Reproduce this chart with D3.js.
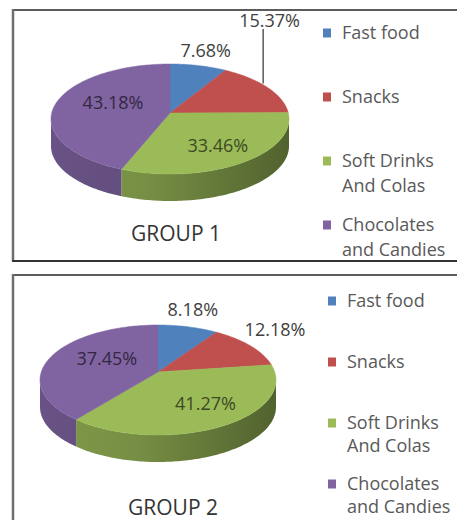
<!DOCTYPE html>
<html>
<head>
<meta charset="utf-8">
<script src="https://cdn.jsdelivr.net/npm/d3@7"></script>
<style>
  html, body { margin: 0; padding: 0; background: #fff; }
  svg { display: block; }
</style>
</head>
<body>
<svg id="chart" width="457" height="520"></svg>
<script>
// ---- data ----
const categories = ["Fast food", "Snacks", "Soft Drinks And Colas", "Chocolates and Candies"];
const legendLabels = [["Fast food"], ["Snacks"], ["Soft Drinks", "And Colas"], ["Chocolates", "and Candies"]];
const group1Values = [7.68, 15.37, 33.46, 43.18];
const group2Values = [8.18, 12.18, 41.27, 37.45];
const groupTitles = ["GROUP 1", "GROUP 2"];
const sliceColors = ["#4F81BD", "#C0504D", "#9BBB59", "#8064A2"];

// ---- layout of the two panels ----
const panels = [
  {
    values: group1Values, title: groupTitles[0],
    frame: { x: 12, top: 10, bottom: 261 },
    pie: { cx: 170, cy: 119, rx: 119, ry: 55, depth: 27, apexDy: -6 },
    titlePos: { x: 176, y: 241 },
    legend: { x: 323, y0: 33, step: 64, line: 25 },
    labelNudge: [[0, 4], [-23, -54], [9, 8], [7, -4]],
    leader: [false, true, false, false]
  },
  {
    values: group2Values, title: groupTitles[1],
    frame: { x: 12, top: 275, bottom: null },
    pie: { cx: 158, cy: 380, rx: 118, ry: 55, depth: 27, apexDy: -8 },
    titlePos: { x: 173, y: 515 },
    legend: { x: 328, y0: 301, step: 61, line: 23 },
    labelNudge: [[-3, 4], [1, 0], [14, 6], [9, -2]],
    leader: [false, false, false, false]
  }
];

const svg = d3.select("#chart");
const defs = svg.append("defs");
const FONT = "'Open Sans', 'Liberation Sans', sans-serif";
const fmt = v => d3.format(".2f")(v) + "%";

const pieGen = d3.pie().sort(null).startAngle(0).endAngle(2 * Math.PI).value(d => d);

panels.forEach((p, pi) => {
  const g = svg.append("g");
  const W = 457, H = 520;

  // frame lines (panel runs past the right edge of the page)
  g.append("line")
    .attr("x1", p.frame.x).attr("x2", W)
    .attr("y1", p.frame.top).attr("y2", p.frame.top)
    .attr("stroke", "#5c5c5c").attr("stroke-width", 2);
  g.append("line")
    .attr("x1", p.frame.x + 1).attr("x2", p.frame.x + 1)
    .attr("y1", p.frame.top - 1).attr("y2", p.frame.bottom === null ? H : p.frame.bottom)
    .attr("stroke", "#6e6e6e").attr("stroke-width", 2.5);
  if (p.frame.bottom !== null) {
    g.append("line")
      .attr("x1", p.frame.x).attr("x2", W)
      .attr("y1", p.frame.bottom).attr("y2", p.frame.bottom)
      .attr("stroke", "#333").attr("stroke-width", 2);
  }

  const { cx, cy, rx, ry, depth, apexDy } = p.pie;
  const apex = [cx, cy + apexDy];
  const rim = (a, yOff = 0) => [cx + rx * Math.sin(a), cy - ry * Math.cos(a) + yOff];
  const arcPoints = (a0, a1, yOff) => {
    const n = Math.max(2, Math.ceil(Math.abs(a1 - a0) / 0.02));
    return d3.range(n + 1).map(i => rim(a0 + (a1 - a0) * i / n, yOff));
  };
  const line = d3.line();

  const arcs = pieGen(p.values);

  // side wall gradients
  arcs.forEach((a, i) => {
    const c = d3.color(sliceColors[i]);
    const grad = defs.append("linearGradient")
      .attr("id", `side-${pi}-${i}`)
      .attr("gradientUnits", "userSpaceOnUse")
      .attr("x1", cx - rx).attr("x2", cx + rx).attr("y1", 0).attr("y2", 0);
    grad.append("stop").attr("offset", 0).attr("stop-color", c.darker(0.55));
    grad.append("stop").attr("offset", 0.4).attr("stop-color", c.darker(0.75));
    grad.append("stop").attr("offset", 1).attr("stop-color", c.darker(1.8));
  });

  // side walls for the front half of the pie
  const frontLo = Math.PI / 2, frontHi = 3 * Math.PI / 2;
  arcs.forEach((a, i) => {
    const lo = Math.max(a.startAngle, frontLo), hi = Math.min(a.endAngle, frontHi);
    if (lo >= hi) return;
    const pts = arcPoints(lo, hi, 0).concat(arcPoints(hi, lo, depth));
    g.append("path")
      .attr("d", line(pts) + "Z")
      .attr("fill", `url(#side-${pi}-${i})`);
  });

  // top faces
  arcs.forEach((a, i) => {
    const pts = [apex].concat(arcPoints(a.startAngle, a.endAngle, 0));
    g.append("path")
      .attr("d", line(pts) + "Z")
      .attr("fill", sliceColors[i])
      .attr("stroke", sliceColors[i]).attr("stroke-width", 0.5);
  });

  // value labels
  arcs.forEach((a, i) => {
    const mid = (a.startAngle + a.endAngle) / 2;
    const v = p.values[i];
    const inside = v >= 20;
    const f = inside ? 0.55 : 1.25;
    const base = [apex[0] + rx * f * Math.sin(mid), apex[1] - ry * f * Math.cos(mid)];
    const [nx, ny] = p.labelNudge[i];
    const lx = base[0] + nx, ly = base[1] + ny;
    const fill = inside ? d3.color(sliceColors[i]).darker(2.6) : "#404040";

    if (p.leader[i]) {
      const anchor = [apex[0] + rx * 0.95 * Math.sin(mid), apex[1] - ry * 0.95 * Math.cos(mid)];
      g.append("line")
        .attr("x1", anchor[0]).attr("x2", anchor[0])
        .attr("y1", ly + 9).attr("y2", anchor[1])
        .attr("stroke", "#404040").attr("stroke-width", 1.3);
    }

    g.append("text")
      .attr("x", lx).attr("y", ly)
      .attr("dy", "0.36em")
      .attr("text-anchor", "middle")
      .attr("font-family", FONT)
      .attr("font-size", 18)
      .attr("fill", fill)
      .text(fmt(v));
  });

  // group title
  g.append("text")
    .attr("x", p.titlePos.x).attr("y", p.titlePos.y)
    .attr("text-anchor", "middle")
    .attr("font-family", FONT)
    .attr("font-size", 21)
    .attr("fill", "#333")
    .text(p.title);

  // legend
  const lg = g.append("g");
  categories.forEach((cat, i) => {
    const yc = p.legend.y0 + i * p.legend.step;
    lg.append("rect")
      .attr("x", p.legend.x).attr("y", yc - 4.5)
      .attr("width", 8).attr("height", 9)
      .attr("fill", sliceColors[i]);
    const t = lg.append("text")
      .attr("font-family", FONT)
      .attr("font-size", 18)
      .attr("fill", "#595959");
    legendLabels[i].forEach((ln, j) => {
      t.append("tspan")
        .attr("x", p.legend.x + 19)
        .attr("y", yc + j * p.legend.line)
        .attr("dy", "0.36em")
        .text(ln);
    });
  });
});
</script>
</body>
</html>
